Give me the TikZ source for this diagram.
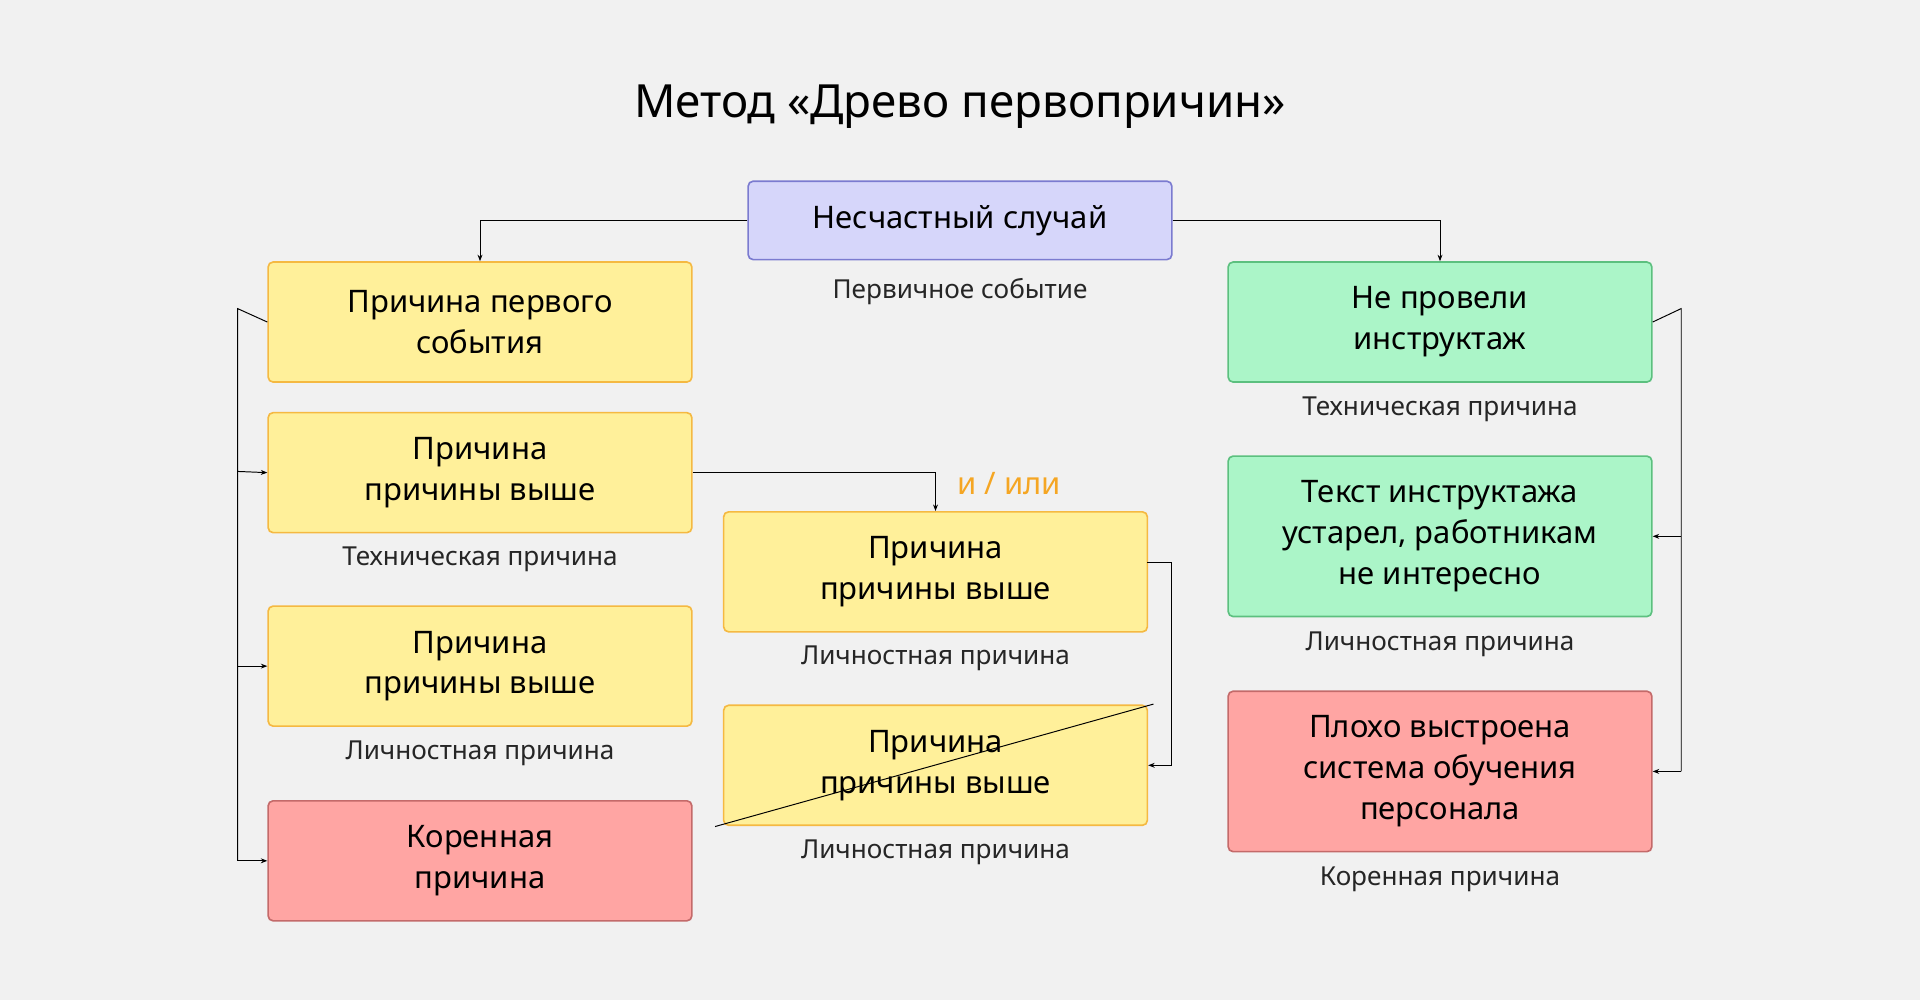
\documentclass[tikz,border=0pt]{standalone}
\usepackage{fontspec}
\setmainfont{Noto Sans}
\usetikzlibrary{arrows.meta}
\definecolor{bg}{HTML}{F1F1F1}
\definecolor{yf}{HTML}{FFF09A}\definecolor{yd}{HTML}{F5B942}
\definecolor{rf}{HTML}{FFA5A3}\definecolor{rd}{HTML}{C46A6A}
\definecolor{gf}{HTML}{ABF5C8}\definecolor{gd}{HTML}{5CC07F}
\definecolor{pf}{HTML}{D6D6FA}\definecolor{pd}{HTML}{7B7BD0}
\definecolor{orng}{HTML}{F5A623}
\begin{document}
\begin{tikzpicture}[x=0.75pt,y=-0.75pt,
 box/.style={draw,rounded corners=3pt,line width=1pt,minimum width=259.5pt,minimum height=73.5pt,align=center,font=\fontsize{19}{25}\selectfont\bfseries,inner sep=2pt},
 yb/.style={box,fill=yf,draw=yd},rb/.style={box,fill=rf,draw=rd},gb/.style={box,fill=gf,draw=gd},
 tall/.style={minimum height=98.25pt},
 lbl/.style={font=\fontsize{16}{20}\selectfont,text=black!85},
 con/.style={line width=0.6pt,-{Stealth[length=4pt,width=3pt]}}]
\fill[bg] (0,0) rectangle (1568,817);
\useasboundingbox (0,0) rectangle (1568,817);
\node[font=\fontsize{28}{34}\selectfont\bfseries] (title) at (784,87) {Метод «Древо первопричин»};
\node[box,fill=pf,draw=pd,minimum height=48pt] (top) at (784,180) {Несчастный случай};
\node[lbl] (c0) at (784,238) {Первичное событие};
\node[yb] (L1) at (392,263) {Причина первого\\события};
\node[yb] (L2) at (392,386) {Причина\\причины выше};
\node[lbl] (c1) at (392,457) {Техническая причина};
\node[yb] (L3) at (392,544) {Причина\\причины выше};
\node[lbl] (c2) at (392,615) {Личностная причина};
\node[rb] (L4) at (392,703) {Коренная\\причина};
\node[yb] (M1) at (764,467) {Причина\\причины выше};
\node[lbl] (c3) at (764,538) {Личностная причина};
\node[yb] (M2) at (764,625) {Причина\\причины выше};
\node[lbl] (c4) at (764,696) {Личностная причина};
\node[gb] (R1) at (1176,263) {Не провели\\инструктаж};
\node[lbl] (c5) at (1176,334) {Техническая причина};
\node[gb,tall] (R2) at (1176,438) {Текст инструктажа\\устарел, работникам\\не интересно};
\node[lbl] (c6) at (1176,526) {Личностная причина};
\node[rb,tall] (R3) at (1176,630) {Плохо выстроена\\система обучения\\персонала};
\node[lbl] (c7) at (1176,718) {Коренная причина};
\node[font=\fontsize{19}{24}\selectfont\bfseries,text=orng] (io) at (824,395) {и / или};
\draw[line width=0.6pt] (584,675) -- (942,575);
\draw[con] (top.west) -| (L1.north);
\draw[con] (top.east) -| (R1.north);
\coordinate (lt) at (194,252);
\draw[line width=0.6pt] (L1.west) -- (lt) -- (194,703);
\draw[con] (194,385) -- (L2.west);
\draw[con] (194,544) -- (L3.west);
\draw[con] (194,703) -- (L4.west);
\draw[con] (L2.east) -| (M1.north);
\coordinate (mt) at (957,459);
\draw[con] (937,459) -- (mt) |- (M2.east);
\coordinate (rt) at (1373,252);
\draw[line width=0.6pt] (R1.east) -- (rt) -- (1373,630);
\draw[con] (1373,438) -- (R2.east);
\draw[con] (1373,630) -- (R3.east);
\end{tikzpicture}
\end{document}
